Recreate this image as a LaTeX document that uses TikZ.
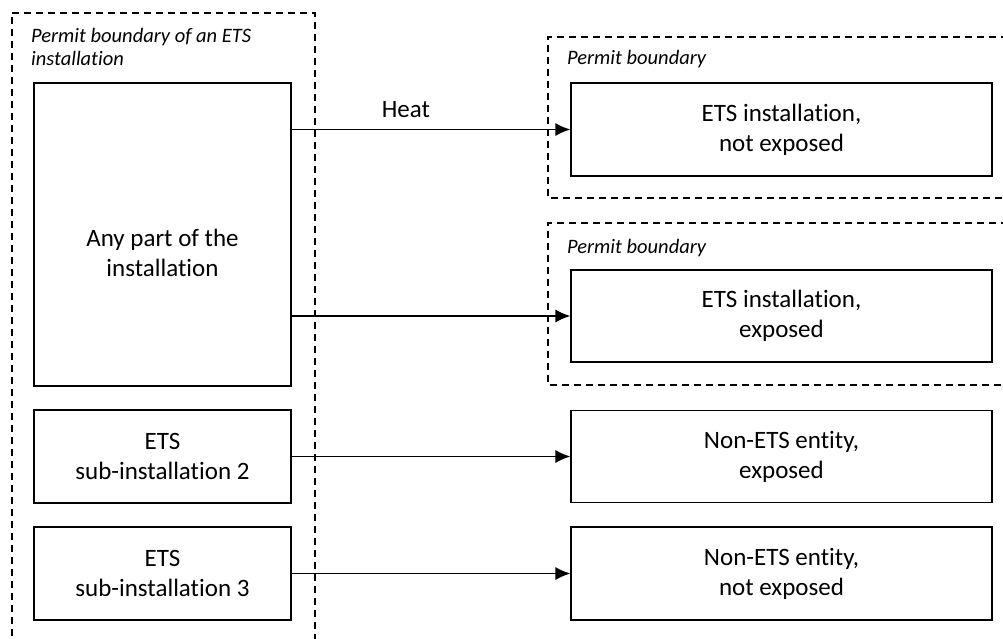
\documentclass[tikz,border=0pt]{standalone}
\usepackage{fontspec}
\setmainfont{Carlito}[Ligatures=NoCommon]
\usepackage{tikz}
\usetikzlibrary{arrows.meta}
\usetikzlibrary{positioning}
\usetikzlibrary{calc}
\tikzstyle{unit}=[draw,line width=1.2pt,align=center,inner sep=0pt,font=\fontsize{25}{30}\selectfont]
\tikzstyle{boundary}=[draw,line width=1.2pt,dash pattern=on 7pt off 5pt]
\tikzstyle{bname}=[align=left,inner sep=0pt,font=\fontsize{20.5}{23.5}\selectfont\itshape]

\begin{document}
\begin{tikzpicture}[x=1pt,y=-1pt,>={Latex[length=15pt,width=13pt]}]
\useasboundingbox (0,0) rectangle (1003,639);

% permit boundaries
\draw[boundary] (12,13) -- (315,13) -- (315,660) (12,660) -- (12,13);
\draw[boundary] (1020,37) -- (548,37) -- (548,198) -- (1020,198);
\draw[boundary] (1020,223) -- (548,223) -- (548,385) -- (1020,385);
\node[bname,anchor=north west] (lb) at (31,28) {Permit boundary of an ETS\\installation};
\node[bname,anchor=base west] (rb1) at (567,65) {Permit boundary};
\node[bname,anchor=base west] (rb2) at (567,253) {Permit boundary};

% left side
\node[unit,minimum width=257pt,minimum height=303pt] (any) at (162.5,234.5) {};
\node[align=center,font=\fontsize{25}{30}\selectfont] (anytxt) at ([yshift=-18pt]any.center) {Any part of the\\installation};
\node[unit,minimum width=257pt,minimum height=93pt] (sub2) at (162.5,456.5) {ETS\\sub-installation 2};
\node[unit,minimum width=257pt,minimum height=93pt] (sub3) at (162.5,573.5) {ETS\\sub-installation 3};

% right side
\node[unit,minimum width=421pt,minimum height=93pt] (r1) at (781.5,129.5) {ETS installation,\\not exposed};
\node[unit,minimum width=421pt,minimum height=92pt] (r2) at (781.5,316) {ETS installation,\\exposed};
\node[unit,minimum width=421pt,minimum height=92pt] (r3) at (781.5,456.5) {Non-ETS entity,\\exposed};
\node[unit,minimum width=421pt,minimum height=93pt] (r4) at (781.5,573.5) {Non-ETS entity,\\not exposed};

\draw[->,line width=1.4pt] (any.east |- r1.west) -- node[pos=0.41,above=8pt,font=\fontsize{25}{30}\selectfont] {Heat} (r1.west);
\draw[->,line width=1.4pt] (any.east |- r2.west) -- (r2.west);
\draw[->,line width=1.4pt] (sub2.east) -- (r3.west);
\draw[->,line width=1.4pt] (sub3.east) -- (r4.west);
\end{tikzpicture}
\end{document}
